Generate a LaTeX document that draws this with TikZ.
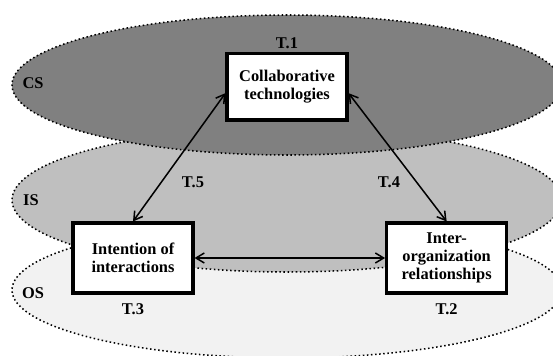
\documentclass[tikz,border=0pt]{standalone}
\usepackage{fontspec}
\setmainfont{Liberation Serif}
\usetikzlibrary{arrows.meta}

\begin{document}
\begin{tikzpicture}

\tikzset{layer/.style={draw=black, line width=1.3pt, dash pattern=on 1.3pt off 2.2pt}}
\tikzset{factor/.style={draw=black, line width=2.6pt, fill=white, align=center, inner sep=0pt, minimum width=3.6cm, minimum height=2.1cm, font=\fontsize{14}{15.5}\selectfont\bfseries}}
\tikzset{tag/.style={font=\fontsize{14}{15.5}\selectfont\bfseries, inner sep=0pt}}
\tikzset{link/.style={line width=1.3pt, {Straight Barb[length=2.5mm,width=3mm]}-{Straight Barb[length=2.5mm,width=3mm]}}}

\useasboundingbox (0,0) rectangle (16.59,-10.68);

% the three system levels, bottom one first
\filldraw[layer, fill=black!5] (8.61,-8.7) ellipse (8.25cm and 2.04cm);
\filldraw[layer, fill=black!25] (8.61,-6.0) ellipse (8.25cm and 2.16cm);
\filldraw[layer, fill=black!50] (8.61,-2.55) ellipse (8.25cm and 2.1cm);

\node[tag] (cs) at (0.99,-2.49) {CS};
\node[tag] (is) at (0.93,-6.0) {IS};
\node[tag] (os) at (0.99,-8.79) {OS};

% factors
\node[factor, minimum height=2.0cm] (collab) at (8.61,-2.6) {Collaborative\\technologies};
\node[factor] (intent) at (3.99,-7.74) {Intention of\\interactions};
\node[factor] (interorg) at (13.4,-7.74) {Inter-\\organization\\relationships};

\node[tag] (t1) at (8.61,-1.29) {T.1};
\node[tag] (t2) at (13.4,-9.27) {T.2};
\node[tag] (t3) at (3.99,-9.27) {T.3};
\node[tag] (t4) at (11.67,-5.46) {T.4};
\node[tag] (t5) at (5.79,-5.46) {T.5};

\draw[link] (intent.north) -- (collab.186);
\draw[link] (interorg.north) -- (collab.354);
\draw[link] (intent.east) -- (interorg.west);

\end{tikzpicture}
\end{document}
